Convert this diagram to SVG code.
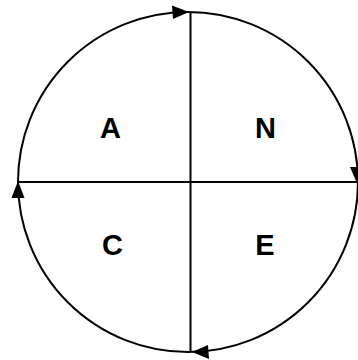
<svg xmlns="http://www.w3.org/2000/svg" width="358" height="360" viewBox="0 0 358 360">
<style>
.ln{stroke:#000;stroke-width:2;fill:none}
.ah{fill:#000}
.lb{font-family:"Liberation Sans",Arial,sans-serif;font-weight:bold;font-size:29px;fill:#000;text-anchor:middle}
</style>
<rect width="358" height="360" fill="#fff"/>
<g id="connectors">
<circle class="ln" cx="188" cy="182" r="170"/>
<line class="ln" x1="190.5" y1="12" x2="190.5" y2="352"/>
<line class="ln" x1="18" y1="182" x2="358" y2="182"/>
<polygon class="ah" points="189,12 172,5.5 173,19"/>
<polygon class="ah" points="356.5,182 350,167 363,167"/>
<polygon class="ah" points="192,352 208,345 209,359"/>
<polygon class="ah" points="18,181 11.5,198 24.5,198"/>
</g>
<g id="A"><text class="lb" x="110.5" y="138">A</text></g>
<g id="N"><text class="lb" x="265.5" y="138">N</text></g>
<g id="C"><text class="lb" x="112.5" y="255">C</text></g>
<g id="E"><text class="lb" x="265" y="255">E</text></g>
</svg>
